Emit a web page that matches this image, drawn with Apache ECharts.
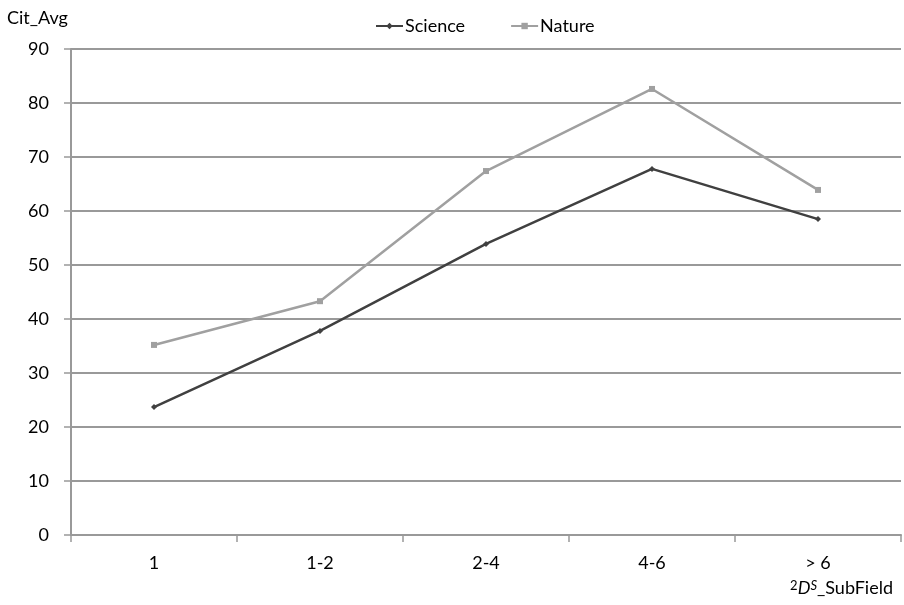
<!DOCTYPE html>
<html>
<head>
<meta charset="utf-8">
<script src="https://cdn.jsdelivr.net/npm/echarts@6/dist/echarts.min.js"></script>
<style>html,body{margin:0;padding:0;background:#fff}#c{width:904px;height:605px}</style>
</head>
<body>
<div id="c"></div>
<script>
var categories = ['1', '1-2', '2-4', '4-6', '> 6'];
var science = [23.7, 37.8, 53.9, 67.8, 58.5];
var nature = [35.2, 43.3, 67.4, 82.6, 63.9];
var yTicks = [0, 10, 20, 30, 40, 50, 60, 70, 80, 90];

var font = 'Lato, "Open Sans", sans-serif';
var chart = echarts.init(document.getElementById('c'));
chart.setOption({
  animation: false,
  textStyle: { fontFamily: font },
  legend: {
    top: 12, left: 370, itemGap: 45, itemWidth: 27, itemHeight: 8,
    textStyle: { fontSize: 18, color: '#000', fontFamily: font, padding: [0, 0, 0, -3] },
    data: ['Science', 'Nature']
  },
  grid: { left: 71, right: 3, top: 49, bottom: 70 },
  xAxis: {
    type: 'category', data: categories, boundaryGap: true,
    name: '{s|2}{d|D}{si|S}{t|_SubField}', nameLocation: 'end', nameGap: 0,
    nameTextStyle: {
      align: 'right', verticalAlign: 'top', padding: [44, 8, 0, 0],
      rich: {
        s: { fontSize: 13, verticalAlign: 'top', color: '#000', fontFamily: font, padding: [0,0,6,0] },
        d: { fontSize: 18, fontStyle: 'italic', color: '#000', fontFamily: font },
        si: { fontSize: 13, fontStyle: 'italic', verticalAlign: 'top', color: '#000', fontFamily: font, padding: [0,0,6,0] },
        t: { fontSize: 18, color: '#000', fontFamily: font }
      }
    },
    axisLine: { lineStyle: { color: '#999', width: 2 } },
    axisTick: { show: true, alignWithLabel: false, length: 7, lineStyle: { color: '#999', width: 1.5 } },
    axisLabel: { color: '#000', fontSize: 18, margin: 19, fontFamily: font }
  },
  yAxis: {
    type: 'value', min: 0, max: 90, interval: 10,
    name: 'Cit_Avg', nameLocation: 'end', nameGap: 22,
    nameTextStyle: { color: '#000', fontSize: 18, align: 'left', padding: [0, 0, 0, -64], fontFamily: font },
    axisLine: { show: true, lineStyle: { color: '#999', width: 2 } },
    axisTick: { show: true, length: 7, lineStyle: { color: '#999', width: 1.5 } },
    splitLine: { lineStyle: { color: '#999', width: 2 } },
    axisLabel: {
      color: '#000', fontSize: 18, margin: 22, fontFamily: font,
      formatter: function (v) { return yTicks.indexOf(v) >= 0 ? String(v) : ''; }
    }
  },
  series: [
    {
      name: 'Science', type: 'line', data: science,
      symbol: 'diamond', symbolSize: 6,
      lineStyle: { color: '#404040', width: 2.5 },
      itemStyle: { color: '#404040' }
    },
    {
      name: 'Nature', type: 'line', data: nature,
      symbol: 'rect', symbolSize: 6,
      lineStyle: { color: '#a0a0a0', width: 2.5 },
      itemStyle: { color: '#a0a0a0' }
    }
  ]
});
</script>
</body>
</html>
